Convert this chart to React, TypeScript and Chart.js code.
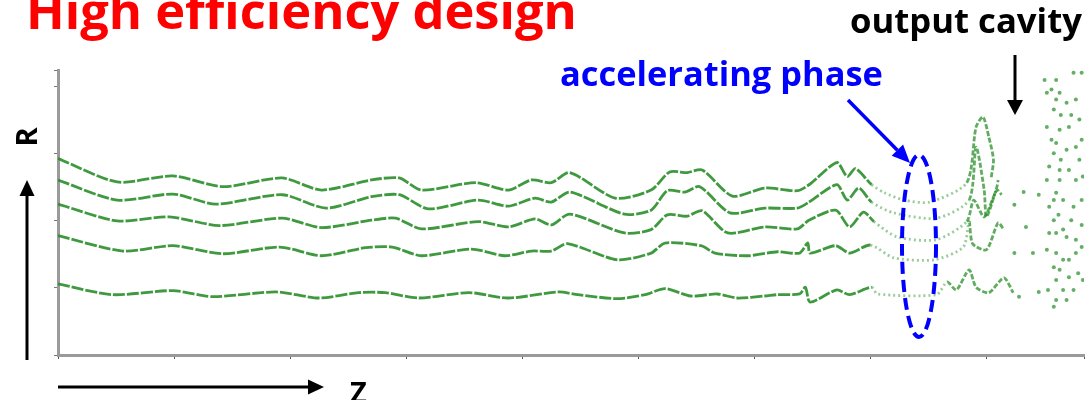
import React, { useEffect, useRef } from "react";
import { Chart, registerables } from "chart.js";

Chart.register(...registerables);

// Axis ranges (Z along the tube, R radial) and tick steps
const Z_MAX = 884;
const R_MAX = 42.5;
const Z_STEP = 100;
const R_STEP = 10;

// Electron trajectories (Z, R)
const z1 = [0, 51, 99, 142, 193, 227, 270, 294, 313, 360, 388, 408, 425, 441, 480, 511, 527, 542, 555, 581, 609, 637, 648, 671, 680, 687, 701, 712, 729, 751, 783, 791, 797, 802, 806, 804];
const r1 = [29.3, 25.8, 26.7, 25.1, 26.4, 24.6, 26.1, 26.4, 24.6, 25.7, 24.6, 26.1, 25.7, 27.2, 23.4, 24.6, 27.3, 27.2, 27.6, 23.7, 24.9, 24.5, 25.5, 28.7, 26.6, 27.8, 25.4, 24.2, 23.1, 22.8, 25.7, 34.0, 35.5, 32.5, 29.1, 26.4];

const z2 = [0, 51, 99, 136, 193, 231, 270, 294, 319, 362, 388, 411, 425, 441, 488, 511, 525, 540, 553, 579, 609, 637, 647, 671, 680, 690, 701, 720, 757, 785, 791, 798, 800, 809, 810];
const r2 = [26.1, 23.1, 24.0, 22.5, 23.9, 21.9, 23.6, 23.9, 21.8, 23.1, 22.2, 23.4, 22.8, 24.3, 21.0, 21.6, 24.5, 24.3, 25.1, 21.2, 21.9, 21.9, 22.8, 25.4, 23.1, 24.9, 22.8, 21.2, 20.4, 23.1, 31.0, 24.6, 20.6, 25.1, 26.1];

const z3 = [0, 51, 96, 139, 193, 227, 270, 291, 313, 362, 388, 411, 425, 441, 488, 511, 525, 542, 555, 577, 609, 637, 647, 670, 682, 694, 703, 723, 757, 783, 789, 798, 809, 813];
const r3 = [22.5, 20.0, 20.6, 19.3, 20.4, 19.0, 20.1, 20.4, 18.8, 19.9, 19.1, 20.3, 19.4, 21.0, 18.2, 18.7, 20.9, 20.7, 21.5, 18.2, 19.1, 18.8, 20.1, 21.6, 19.1, 21.3, 19.9, 17.6, 17.2, 19.9, 23.1, 20.6, 24.6, 23.9];

const z4 = [0, 56, 99, 142, 191, 227, 265, 288, 313, 356, 385, 408, 425, 439, 482, 511, 523, 554, 566, 594, 620, 639, 646, 648, 670, 682, 700, 720, 755, 780, 785, 788, 800, 810, 815];
const r4 = [17.8, 15.5, 16.3, 15.1, 16.1, 14.8, 16.0, 16.1, 14.8, 15.8, 14.8, 15.5, 15.5, 16.6, 14.2, 15.2, 16.7, 16.3, 15.2, 14.8, 15.4, 15.2, 16.7, 15.2, 16.3, 15.2, 16.4, 14.5, 14.2, 16.1, 19.9, 16.6, 15.7, 19.7, 18.7];

const z5 = [0, 47, 99, 133, 188, 225, 259, 282, 311, 354, 388, 431, 448, 482, 506, 523, 545, 568, 585, 609, 620, 639, 644, 648, 671, 682, 701, 706, 757, 766, 774, 785, 791, 802, 815, 823];
const r5 = [10.6, 9.0, 9.6, 8.7, 9.4, 8.5, 9.3, 9.3, 8.5, 9.3, 8.5, 9.4, 9.0, 8.4, 9.0, 9.9, 8.8, 9.1, 8.5, 8.8, 9.0, 9.1, 10.1, 7.9, 9.7, 9.0, 10.1, 9.1, 9.0, 10.9, 9.7, 12.7, 10.1, 9.3, 11.5, 9.3];

// Where each trajectory turns faint/dotted (accelerating phase region)
const faintStart = [700, 700, 700, 700, 700];
const faintEnd = [786, 786, 786, 786, 766];

// Scattered particles in and before the output cavity
const cavityZ = [850, 852, 860, 875, 882, 860, 863, 858, 869, 877, 852, 863, 871, 880, 860, 858, 869, 877, 854, 863, 871, 880, 863, 877, 883, 860, 866, 875, 882, 854, 858, 860, 866, 854, 869, 877, 882, 860, 866, 871, 877, 858, 860, 866, 860, 858, 871, 879, 883, 832, 845, 824, 834, 824, 840, 845, 828, 856, 864, 873, 856, 864, 852, 858, 862, 873, 852, 863, 853, 869, 882, 882, 875];
const cavityR = [41.0, 39.1, 41.0, 42.1, 42.1, 38.1, 39.1, 36.6, 37.6, 38.1, 34.0, 33.6, 34.0, 35.1, 31.6, 30.1, 30.6, 31.0, 28.1, 27.6, 27.6, 29.1, 26.1, 26.1, 26.6, 24.2, 23.1, 22.1, 23.1, 22.1, 20.1, 18.2, 18.7, 18.2, 17.6, 17.2, 16.1, 15.2, 14.2, 14.2, 15.2, 13.1, 11.2, 9.7, 8.2, 7.2, 11.6, 12.2, 11.2, 24.3, 23.9, 22.4, 19.1, 15.2, 15.2, 9.4, 8.7, 39.6, 35.8, 35.8, 32.1, 29.1, 26.1, 23.1, 20.9, 20.1, 15.7, 12.7, 9.7, 8.2, 32.1, 19.4, 9.7];

const TITLE = "High efficiency design";
const LABEL_CAVITY = "output cavity";
const LABEL_PHASE = "accelerating phase";
const AXIS_R = "R";
const AXIS_Z = "Z";

const GREEN = "rgba(36,140,36,0.88)";
const GREEN_FAINT = "rgba(36,140,36,0.45)";
const GREEN_TAIL = "rgba(36,140,36,0.72)";
const FONT = "'Open Sans', 'DejaVu Sans', sans-serif";

function fitText(ctx: CanvasRenderingContext2D, text: string, target: number, color: string, x: number, y: number) {
  ctx.font = `bold 100px ${FONT}`;
  const w = ctx.measureText(text).width;
  const size = (100 * target) / w;
  ctx.font = `bold ${size}px ${FONT}`;
  ctx.fillStyle = color;
  ctx.textAlign = "left";
  ctx.textBaseline = "alphabetic";
  ctx.fillText(text, x, y);
}

function arrow(ctx: CanvasRenderingContext2D, x1: number, y1: number, x2: number, y2: number, color: string, lw: number, headLen: number, headW: number) {
  const a = Math.atan2(y2 - y1, x2 - x1);
  const bx = x2 - headLen * Math.cos(a);
  const by = y2 - headLen * Math.sin(a);
  ctx.strokeStyle = color;
  ctx.fillStyle = color;
  ctx.lineWidth = lw;
  ctx.setLineDash([]);
  ctx.beginPath();
  ctx.moveTo(x1, y1);
  ctx.lineTo(bx, by);
  ctx.stroke();
  const px = (-Math.sin(a) * headW) / 2;
  const py = (Math.cos(a) * headW) / 2;
  ctx.beginPath();
  ctx.moveTo(x2, y2);
  ctx.lineTo(bx + px, by + py);
  ctx.lineTo(bx - px, by - py);
  ctx.closePath();
  ctx.fill();
}

const annotations = {
  id: "annotations",
  afterDraw(chart: any) {
    const ctx: CanvasRenderingContext2D = chart.ctx;
    ctx.save();
    fitText(ctx, TITLE, 551, "#ff0000", 26, 29);
    fitText(ctx, LABEL_CAVITY, 232, "#000000", 850, 33);
    fitText(ctx, LABEL_PHASE, 323, "#0000ff", 560, 86);

    // axis letters
    ctx.fillStyle = "#000";
    ctx.font = `bold 29px ${FONT}`;
    ctx.save();
    ctx.translate(37, 137);
    ctx.rotate(-Math.PI / 2);
    ctx.textAlign = "center";
    ctx.textBaseline = "alphabetic";
    ctx.fillText(AXIS_R, 0, 0);
    ctx.restore();
    ctx.textAlign = "left";
    ctx.fillText(AXIS_Z, 350, 403);

    // arrows
    arrow(ctx, 27, 360, 27, 180, "#000", 3, 16, 15);
    arrow(ctx, 58, 387, 324, 387, "#000", 3, 16, 15);
    arrow(ctx, 1015, 55, 1015, 115, "#000", 3, 15, 16);
    arrow(ctx, 848, 100, 910, 163, "#0000ff", 3.5, 18, 16);

    // dashed ellipse around the accelerating phase
    ctx.strokeStyle = "#0000ff";
    ctx.lineWidth = 4;
    ctx.setLineDash([12, 6]);
    ctx.beginPath();
    ctx.ellipse(919, 246, 17, 91, 0, 0, Math.PI * 2);
    ctx.stroke();
    ctx.restore();
  },
};

export default function App() {
  const ref = useRef<HTMLCanvasElement>(null);
  useEffect(() => {
    const canvas = ref.current;
    if (!canvas) return;
    const traces = [
      [z1, r1],
      [z2, r2],
      [z3, r3],
      [z4, r4],
      [z5, r5],
    ];
    const datasets: any[] = traces.map(([zs, rs], i) => {
      const faint = (c: any) => c.p0.parsed.x >= faintStart[i] && c.p1.parsed.x <= faintEnd[i];
      const tail = (c: any) => c.p0.parsed.x >= faintEnd[i] - 3;
      return {
        data: zs.map((z, k) => ({ x: z, y: rs[k] })),
        borderColor: GREEN,
        borderWidth: 2.8,
        borderDash: [12, 2],
        pointRadius: 0,
        tension: 0.25,
        fill: false,
        segment: {
          borderColor: (c: any) => (faint(c) ? GREEN_FAINT : tail(c) ? GREEN_TAIL : undefined),
          borderDash: (c: any) => (faint(c) ? [2, 3] : tail(c) ? [5, 2] : undefined),
        },
      };
    });
    datasets.push({
      data: cavityZ.map((z, k) => ({ x: z, y: cavityR[k] })),
      showLine: false,
      pointRadius: 2,
      pointBorderWidth: 0,
      pointBackgroundColor: "rgba(36,140,36,0.7)",
      borderColor: "rgba(0,0,0,0)",
    });

    const chart = new Chart(canvas, {
      type: "line",
      data: { datasets },
      options: {
        animation: false,
        responsive: false,
        devicePixelRatio: 1,
        layout: { padding: { left: 54, top: 70, right: 0, bottom: 41 } },
        plugins: { legend: { display: false }, tooltip: { enabled: false } },
        scales: {
          x: {
            type: "linear",
            min: 0,
            max: Z_MAX,
            ticks: { display: false, stepSize: Z_STEP },
            grid: { drawOnChartArea: false, drawTicks: true, tickLength: 4, color: "#555", lineWidth: 1 },
            border: { display: true, color: "#9a9a9a", width: 3 },
            afterFit: (s: any) => {
              s.height = 4;
            },
          },
          y: {
            type: "linear",
            min: 0,
            max: R_MAX,
            ticks: { display: false, stepSize: R_STEP },
            grid: { drawOnChartArea: false, drawTicks: true, tickLength: 4, color: "#777", lineWidth: 1 },
            border: { display: true, color: "#9a9a9a", width: 3 },
            afterFit: (s: any) => {
              s.width = 4;
            },
          },
        },
      } as any,
      plugins: [annotations],
    });
    return () => chart.destroy();
  }, []);

  return (
    <div style={{ position: "fixed", left: 0, top: 0, width: 1088, height: 400, background: "#fff" }}>
      <canvas ref={ref} width={1088} height={400} style={{ display: "block" }} />
    </div>
  );
}
